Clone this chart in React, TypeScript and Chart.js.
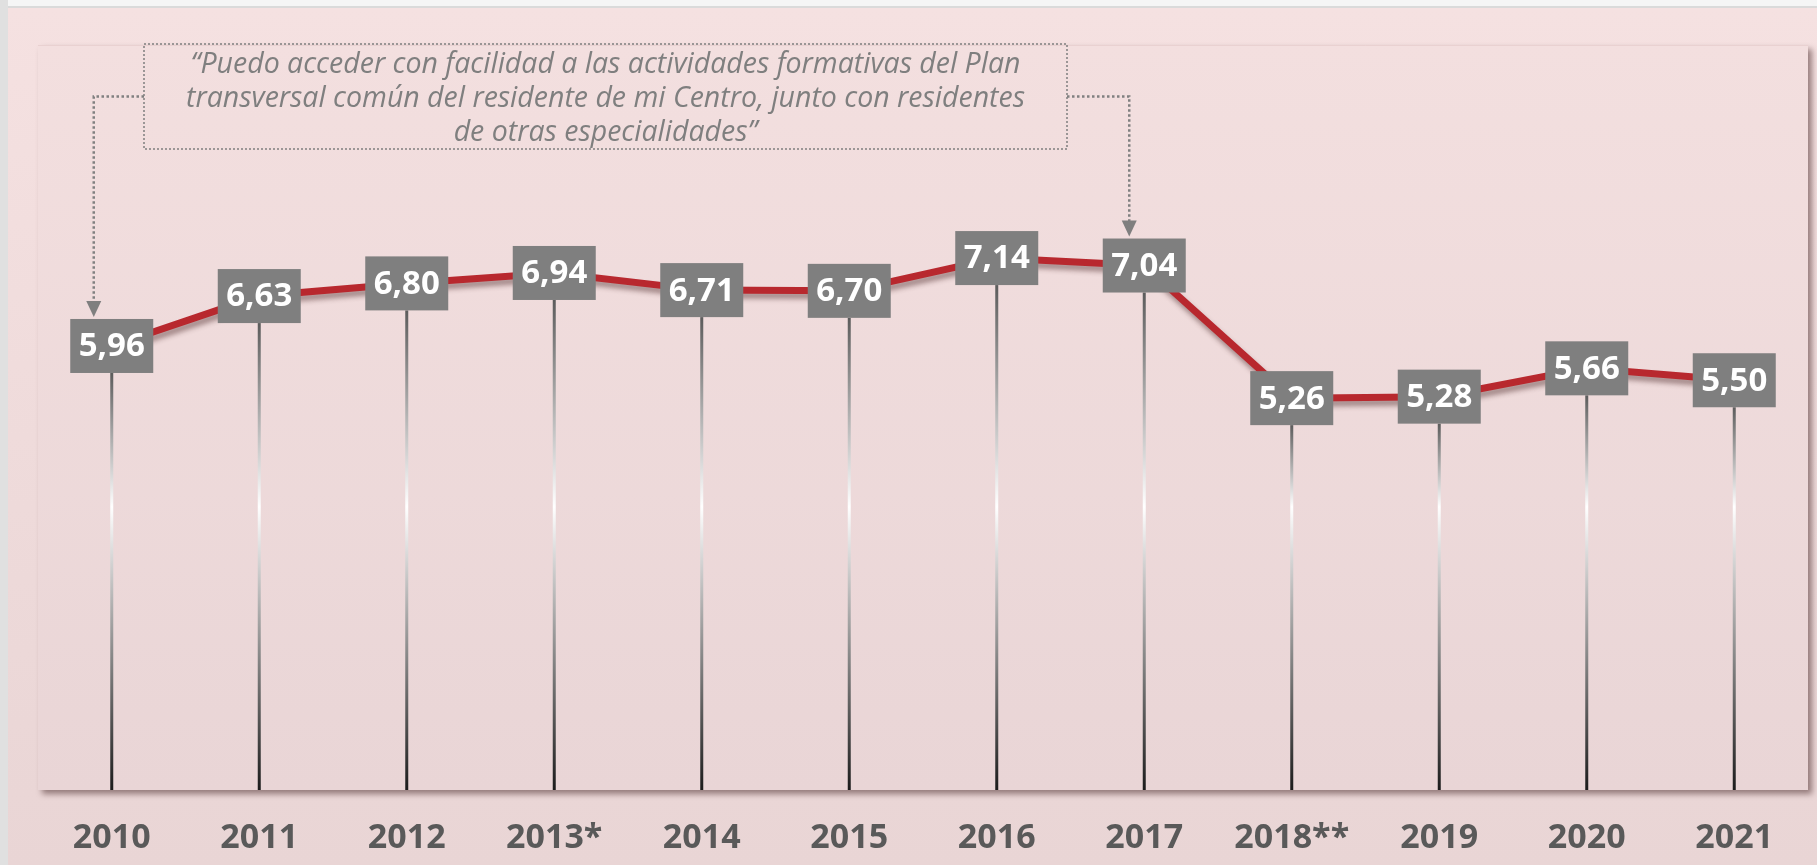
import React, { useEffect, useRef } from 'react';
import { Chart, registerables } from 'chart.js';

Chart.register(...registerables);

// ---- data ----
const categories = ['2010', '2011', '2012', '2013*', '2014', '2015', '2016', '2017', '2018**', '2019', '2020', '2021'];
const values = [5.96, 6.63, 6.8, 6.94, 6.71, 6.7, 7.14, 7.04, 5.26, 5.28, 5.66, 5.5];
const quoteLines = [
  '\u201CPuedo acceder con facilidad a las actividades formativas del Plan',
  'transversal com\u00FAn del residente de mi Centro, junto con residentes',
  'de otras especialidades\u201D',
];
const annotatedIndices = [0, 7];
const yMin = 0;
const yMax = 10;

const FONT = '"Open Sans", "Noto Sans", sans-serif';

const fmt = (v: number) => v.toFixed(2).replace('.', ',');

const decorPlugin = {
  id: 'decor',
  beforeDraw(chart: any) {
    const { ctx, width, height, chartArea: a } = chart;
    ctx.save();
    ctx.fillStyle = '#F5F5F5';
    ctx.fillRect(0, 0, width, height);
    ctx.fillStyle = '#E0E0E0';
    ctx.fillRect(0, 0, 8, height);
    ctx.fillStyle = '#DADADA';
    ctx.fillRect(8, 6, width - 8, 2);
    const g = ctx.createLinearGradient(0, 8, 0, height);
    g.addColorStop(0, '#F5E1E1');
    g.addColorStop(1, '#E9D5D5');
    ctx.fillStyle = g;
    ctx.fillRect(8, 8, width - 8, height - 8);

    ctx.save();
    ctx.shadowColor = 'rgba(90,60,60,0.6)';
    ctx.shadowBlur = 6;
    ctx.shadowOffsetX = 4;
    ctx.shadowOffsetY = 4;
    const g2 = ctx.createLinearGradient(0, a.top, 0, a.bottom);
    g2.addColorStop(0, '#F3DFDF');
    g2.addColorStop(1, '#E9D5D6');
    ctx.fillStyle = g2;
    ctx.fillRect(a.left, a.top, a.right - a.left, a.bottom - a.top);
    ctx.restore();
    ctx.strokeStyle = 'rgba(230,205,205,0.8)';
    ctx.lineWidth = 1;
    ctx.beginPath();
    ctx.moveTo(a.left, a.top + 0.5);
    ctx.lineTo(a.right, a.top + 0.5);
    ctx.stroke();
    ctx.restore();
  },
  beforeDatasetsDraw(chart: any) {
    const { ctx, chartArea: a } = chart;
    const meta = chart.getDatasetMeta(0);
    const whiteY = a.top + 0.62 * (a.bottom - a.top);
    ctx.save();
    meta.data.forEach((pt: any) => {
      const top = pt.y + 27;
      const bottom = a.bottom;
      const g = ctx.createLinearGradient(0, top, 0, bottom);
      const f = Math.min(0.9, Math.max(0.12, (whiteY - top) / (bottom - top)));
      g.addColorStop(0, '#5C5C5C');
      g.addColorStop(f, '#FFFFFF');
      g.addColorStop(1, '#1C1C1C');
      ctx.fillStyle = g;
      ctx.fillRect(pt.x - 1.5, top, 3, bottom - top);
    });
    ctx.restore();
  },
  beforeDatasetDraw(chart: any) {
    const ctx = chart.ctx;
    ctx.save();
    ctx.shadowColor = 'rgba(70,35,35,0.45)';
    ctx.shadowBlur = 5;
    ctx.shadowOffsetX = 2;
    ctx.shadowOffsetY = 5;
  },
  afterDatasetDraw(chart: any) {
    chart.ctx.restore();
  },
  afterDatasetsDraw(chart: any) {
    const { ctx } = chart;
    const meta = chart.getDatasetMeta(0);
    ctx.save();
    // value boxes
    meta.data.forEach((pt: any, i: number) => {
      const w = 83;
      const h = 54;
      ctx.fillStyle = '#7F7F7F';
      ctx.fillRect(pt.x - w / 2, pt.y - h / 2, w, h);
      ctx.fillStyle = '#FFFFFF';
      ctx.font = `bold 33px ${FONT}`;
      ctx.textAlign = 'center';
      ctx.textBaseline = 'middle';
      ctx.fillText(fmt(values[i]), pt.x, pt.y + 1);
    });

    // annotation box
    const bx = 144;
    const by = 44;
    const bw = 923;
    const bh = 105;
    ctx.strokeStyle = '#7F7F7F';
    ctx.lineWidth = 1.5;
    ctx.setLineDash([2, 2]);
    ctx.strokeRect(bx, by, bw, bh);

    ctx.fillStyle = '#7F7F7F';
    ctx.font = `italic 28.5px ${FONT}`;
    ctx.textAlign = 'center';
    ctx.textBaseline = 'alphabetic';
    quoteLines.forEach((l, i) => ctx.fillText(l, bx + bw / 2, 73 + i * 34));

    // connectors
    const connY = by + bh / 2;
    const offsets = [-18, -15];
    annotatedIndices.forEach((idx, k) => {
      const pt = meta.data[idx];
      const ax = pt.x + offsets[k];
      const tipY = pt.y - 27 - 2;
      const startX = k === 0 ? bx : bx + bw;
      ctx.strokeStyle = '#808080';
      ctx.lineWidth = 2.5;
      ctx.setLineDash([2.5, 2.5]);
      ctx.beginPath();
      ctx.moveTo(startX, connY);
      ctx.lineTo(ax, connY);
      ctx.lineTo(ax, tipY - 15);
      ctx.stroke();
      ctx.setLineDash([]);
      ctx.fillStyle = '#7F7F7F';
      ctx.beginPath();
      ctx.moveTo(ax - 7.5, tipY - 16);
      ctx.lineTo(ax + 7.5, tipY - 16);
      ctx.lineTo(ax, tipY);
      ctx.closePath();
      ctx.fill();
    });
    ctx.restore();
  },
};

export default function App() {
  const ref = useRef<HTMLCanvasElement | null>(null);
  useEffect(() => {
    if (!ref.current) return;
    const chart = new Chart(ref.current, {
      type: 'line',
      data: {
        labels: categories,
        datasets: [
          {
            data: values,
            borderColor: '#B8282E',
            borderWidth: 7,
            pointRadius: 0,
            tension: 0,
            fill: false,
          },
        ],
      },
      options: {
        responsive: false,
        animation: false,
        devicePixelRatio: 1,
        layout: { padding: { left: 38, top: 45, right: 9, bottom: 0 } },
        plugins: { legend: { display: false }, tooltip: { enabled: false } },
        scales: {
          x: {
            offset: true,
            grid: { display: false, drawTicks: false },
            border: { display: false },
            ticks: {
              color: '#595959',
              font: { family: FONT, size: 34, weight: 'bold' },
              padding: 28,
              maxRotation: 0,
              autoSkip: false,
            },
            afterFit: (scale: any) => {
              scale.height = 75;
            },
          },
          y: {
            display: false,
            min: yMin,
            max: yMax,
          },
        },
      },
      plugins: [decorPlugin],
    } as any);
    return () => chart.destroy();
  }, []);
  return (
    <div style={{ position: 'fixed', left: 0, top: 0, width: 1817, height: 865 }}>
      <canvas ref={ref} width={1817} height={865} style={{ display: 'block' }} />
    </div>
  );
}
